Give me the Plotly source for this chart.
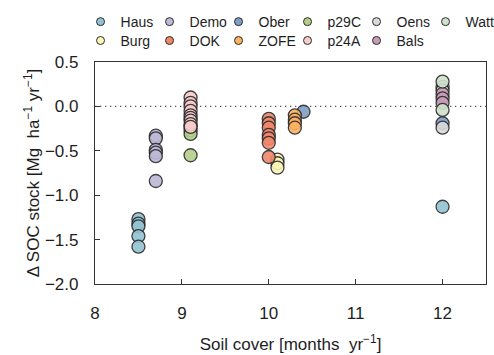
import plotly.graph_objects as go

# ---- data ----
series_names = ["Haus", "Burg", "Demo", "DOK", "Ober", "ZOFE", "p29C", "p24A", "Oens", "Bals", "Watt"]
series_colors = ["#93c3d2", "#fcf5b8", "#bdb9d7", "#f0876b", "#7f9fc6", "#fbb262",
                 "#b5cf8b", "#f8cccb", "#dadadb", "#c59db6", "#cfe2cd"]
haus_x = [8.5, 8.5, 8.5, 8.5, 8.5, 12]
haus_y = [-1.27, -1.32, -1.35, -1.46, -1.58, -1.13]
burg_x = [10.1, 10.1, 10.1]
burg_y = [-0.60, -0.64, -0.69]
demo_x = [8.7, 8.7, 8.7, 8.7, 8.7, 8.7]
demo_y = [-0.33, -0.36, -0.49, -0.52, -0.56, -0.84]
dok_x = [10.0, 10.0, 10.0, 10.0, 10.0, 10.0, 10.0]
dok_y = [-0.14, -0.19, -0.24, -0.32, -0.36, -0.41, -0.57]
ober_x = [10.4, 12]
ober_y = [-0.06, -0.19]
zofe_x = [10.3, 10.3, 10.3, 10.3]
zofe_y = [-0.10, -0.15, -0.19, -0.24]
p29c_x = [9.1, 9.1, 9.1, 9.1]
p29c_y = [-0.22, -0.27, -0.31, -0.55]
p24a_x = [9.1, 9.1, 9.1, 9.1, 9.1, 9.1, 9.1, 9.1, 9.1]
p24a_y = [0.10, 0.04, 0.00, -0.05, -0.10, -0.13, -0.16, -0.20, -0.23]
oens_x = [12, 12, 12]
oens_y = [0.22, 0.18, -0.24]
bals_x = [12, 12, 12]
bals_y = [0.14, 0.09, 0.04]
watt_x = [12, 12]
watt_y = [0.28, -0.04]

series_x = [haus_x, burg_x, demo_x, dok_x, ober_x, zofe_x, p29c_x, p24a_x, oens_x, bals_x, watt_x]
series_y = [haus_y, burg_y, demo_y, dok_y, ober_y, zofe_y, p29c_y, p24a_y, oens_y, bals_y, watt_y]

legend_row1 = ["Haus", "Demo", "Ober", "p29C", "Oens", "Watt"]
legend_row2 = ["Burg", "DOK", "ZOFE", "p24A", "Bals"]

x_ticks = [8, 9, 10, 11, 12]
y_ticks = [0.5, 0.0, -0.5, -1.0, -1.5, -2.0]
y_ticklabels = ["0.5", "0.0", "\u22120.5", "\u22121.0", "\u22121.5", "\u22122.0"]

FONT = "Liberation Sans, Arial, sans-serif"
EDGE = "#2b2b2b"
TXT = "#1e1e1e"

fig = go.Figure()

for name, color, xs, ys in zip(series_names, series_colors, series_x, series_y):
    fig.add_trace(go.Scatter(
        x=xs, y=ys, mode="markers", name=name, showlegend=False,
        marker=dict(size=13, color=color, opacity=0.9,
                    line=dict(color=EDGE, width=1.3)),
        hoverinfo="x+y+name",
    ))

# legend-only entries (no data)
color_of = dict(zip(series_names, series_colors))
for legend_id, row in (("legend", legend_row1), ("legend2", legend_row2)):
    for name in row:
        fig.add_trace(go.Scatter(
            x=[None], y=[None], mode="markers", name=name, legend=legend_id,
            marker=dict(size=8, color=color_of[name],
                        line=dict(color=EDGE, width=1)),
        ))

fig.add_hline(y=0, line=dict(color="#555555", width=1.3, dash="1.3px,3.7px"), layer="below")

axis_common = dict(
    showline=True, linecolor="#333333", linewidth=1.3, mirror=True,
    ticks="inside", ticklen=5, tickwidth=1, tickcolor="#333333",
    showgrid=False, zeroline=False,
    tickfont=dict(family=FONT, size=17, color=TXT),
)

fig.update_xaxes(
    range=[8, 12.5], tickvals=x_ticks, ticktext=[str(v) for v in x_ticks],
    ticklabelstandoff=13,
    title=dict(text="Soil cover [months  yr<sup>\u22121</sup>]",
               font=dict(family=FONT, size=17, color=TXT), standoff=16),
    **axis_common,
)
fig.update_yaxes(
    range=[-2, 0.5], tickvals=y_ticks, ticktext=y_ticklabels,
    ticklabelstandoff=12,
    title=dict(text="\u0394 SOC stock [Mg  ha<sup>\u22121</sup> yr<sup>\u22121</sup>]",
               font=dict(family=FONT, size=17, color=TXT), standoff=0),
    **axis_common,
)

legend_common = dict(
    orientation="h", xanchor="left", yanchor="middle",
    entrywidth=24, entrywidthmode="pixels",
    font=dict(family=FONT, size=14, color=TXT),
    bgcolor="rgba(0,0,0,0)", borderwidth=0,
    itemclick=False, itemdoubleclick=False,
)

fig.update_layout(
    width=494, height=355,
    margin=dict(l=95, r=8, t=62, b=71, autoexpand=False),
    paper_bgcolor="white", plot_bgcolor="white",
    font=dict(family=FONT, size=13, color=TXT),
    legend=dict(x=-0.037, y=1.18, **legend_common),
    legend2=dict(x=-0.037, y=1.095, **legend_common),
    showlegend=True,
)

fig.write_html("out.html")
